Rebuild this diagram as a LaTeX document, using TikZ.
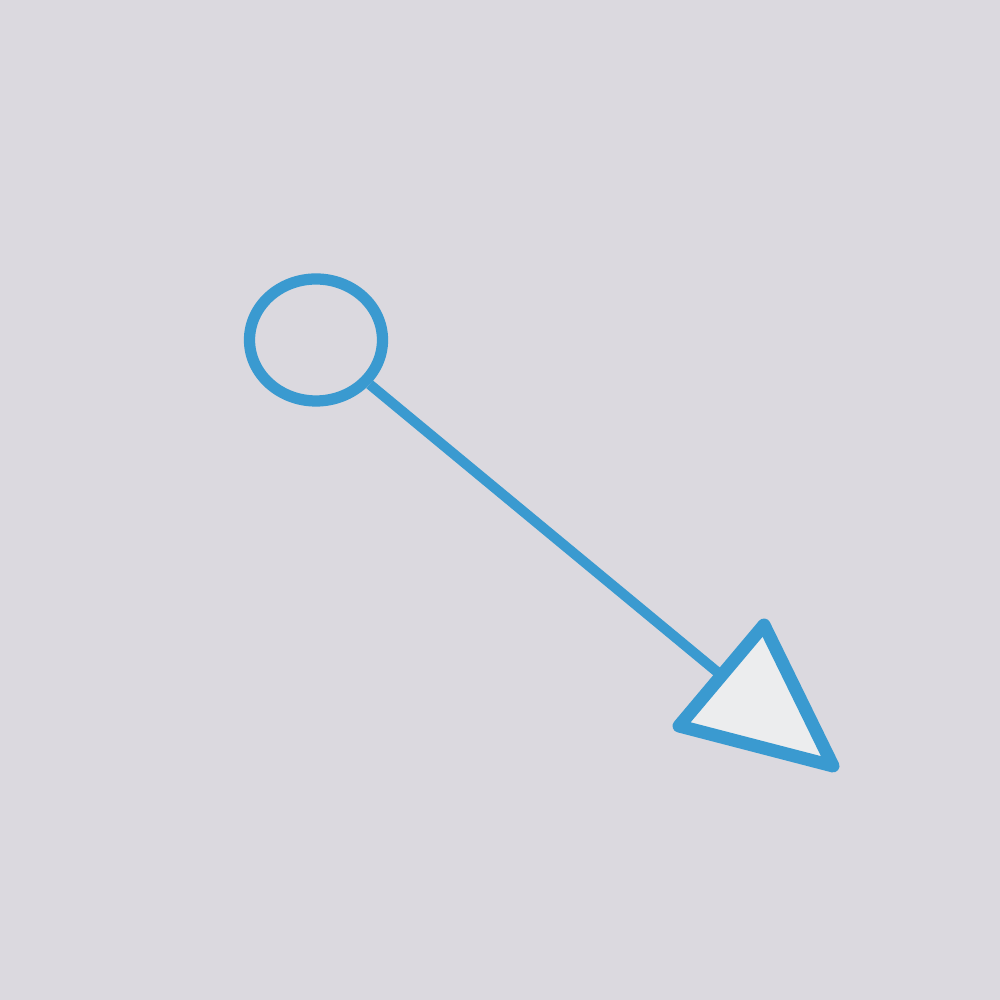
\documentclass[tikz,border=0pt]{standalone}
\usepackage{tikz}
\usetikzlibrary{calc, positioning, shapes.geometric}
\definecolor{bgGray}{RGB}{219,217,223}
\definecolor{pinBlue}{RGB}{58,154,208}
\definecolor{tipWhite}{RGB}{236,237,238}

\begin{document}
\begin{tikzpicture}[line join=round]
    \fill[bgGray] (0,0) rectangle (10,10);
    \useasboundingbox (0,0) rectangle (10,10);

    % Ring
    \node[draw=pinBlue, line width=3.2pt, ellipse, minimum width=1.33cm, minimum height=1.22cm, inner sep=0pt] (ring) at (3.16,6.60) {};

    % Triangle head
    \coordinate (A) at (7.64,3.75);
    \coordinate (B) at (8.33,2.34);
    \coordinate (C) at (6.79,2.74);
    \coordinate (tip) at ($(A)!0.5!(C)$);
    \filldraw[fill=tipWhite, draw=pinBlue, line width=3.7pt] (A) -- (B) -- (C) -- cycle;

    % Stem
    \draw[pinBlue, line width=2.9pt] (ring) -- (tip);
\end{tikzpicture}
\end{document}
